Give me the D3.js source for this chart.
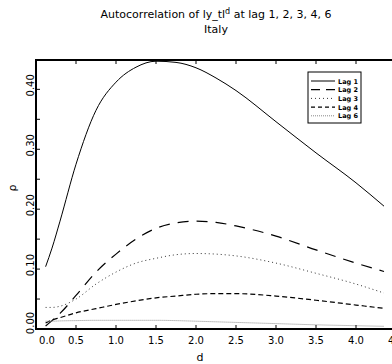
<!DOCTYPE html>
<html>
<head>
<meta charset="utf-8">
<script src="https://cdn.jsdelivr.net/npm/d3@7"></script>
<style>
  body { margin: 0; background: #fff; }
  svg { display: block; font-family: "DejaVu Sans", sans-serif; }
</style>
</head>
<body>
<div id="chart"></div>
<script>
// d values where each series was read
const dValues = [0.12, 0.2, 0.3, 0.5, 0.75, 1.0, 1.25, 1.5, 1.75, 2.0, 2.25, 2.5, 3.0, 3.5, 4.0, 4.35];

// autocorrelation per lag
const lag1 = [0.104, 0.135, 0.180, 0.275, 0.365, 0.412, 0.437, 0.447, 0.445, 0.436, 0.419, 0.398, 0.346, 0.294, 0.244, 0.205];
const lag2 = [0.005, 0.014, 0.026, 0.056, 0.095, 0.125, 0.150, 0.168, 0.177, 0.180, 0.178, 0.172, 0.155, 0.132, 0.110, 0.096];
const lag3 = [0.036, 0.036, 0.038, 0.050, 0.075, 0.095, 0.110, 0.118, 0.124, 0.126, 0.125, 0.122, 0.110, 0.093, 0.075, 0.060];
const lag4 = [0.010, 0.015, 0.019, 0.027, 0.034, 0.041, 0.047, 0.052, 0.055, 0.058, 0.059, 0.059, 0.055, 0.048, 0.040, 0.0345];
const lag6 = [0.013, 0.013, 0.0135, 0.014, 0.0145, 0.0145, 0.0145, 0.0145, 0.014, 0.013, 0.012, 0.011, 0.009, 0.007, 0.0055, 0.0045];

const seriesNames = ["Lag 1", "Lag 2", "Lag 3", "Lag 4", "Lag 6"];
const xTicks = [0, 0.5, 1.0, 1.5, 2.0, 2.5, 3.0, 3.5, 4.0, 4.5];
const yLabelTicks = [0, 0.1, 0.2, 0.3, 0.4];
const yMinorTicks = [0, 0.05, 0.1, 0.15, 0.2, 0.25, 0.3, 0.35, 0.4];

const W = 392, H = 364;
const margin = { top: 60, right: -4, bottom: 35, left: 36 };
const width = W - margin.left - margin.right,
      height = H - margin.top - margin.bottom;

const styles = [
  { dash: null, color: "#000", w: 1 },
  { dash: "11,8", color: "#000", w: 1.2 },
  { dash: "1,3", color: "#333", w: 1 },
  { dash: "5,3", color: "#000", w: 1.2 },
  { dash: "1,1", color: "#888", w: 1 }
];

const svg = d3.select("#chart").append("svg")
    .attr("width", W).attr("height", H);

// titles
const title = svg.append("text")
    .attr("x", margin.left + width / 2).attr("y", 18)
    .attr("text-anchor", "middle")
    .style("font-size", "11px");
title.append("tspan").text("Autocorrelation of ly_tl");
title.append("tspan").attr("dy", -4).style("font-size", "8px").text("d");
title.append("tspan").attr("dy", 4).text(" at lag 1, 2, 3, 4, 6");

svg.append("text")
    .attr("x", margin.left + width / 2).attr("y", 33)
    .attr("text-anchor", "middle")
    .style("font-size", "11px")
    .text("Italy");

const g = svg.append("g")
    .attr("transform", "translate(" + margin.left + "," + margin.top + ")");

const x = d3.scaleLinear().domain([0, 4.5]).range([0, width]);
const y = d3.scaleLinear().domain([0, 0.449]).range([height, 0]);

// curves
const allSeries = [lag1, lag2, lag3, lag4, lag6];
const line = d3.line()
    .x(function (d) { return x(d[0]); })
    .y(function (d) { return y(d[1]); })
    .curve(d3.curveMonotoneX);

allSeries.forEach(function (vals, i) {
    const pts = dValues.map(function (d, j) { return [d, vals[j]]; });
    g.append("path")
        .attr("d", line(pts))
        .attr("fill", "none")
        .attr("stroke", styles[i].color)
        .attr("stroke-width", styles[i].w)
        .attr("stroke-dasharray", styles[i].dash);
});

// frame
g.append("rect")
    .attr("width", width).attr("height", height)
    .attr("fill", "none").attr("stroke", "#000").attr("stroke-width", 2);

// x axis ticks + labels
const tickLen = 4;
xTicks.forEach(function (t) {
    g.append("line").attr("x1", x(t)).attr("x2", x(t))
        .attr("y1", height).attr("y2", height - tickLen).attr("stroke", "#000");
    g.append("line").attr("x1", x(t)).attr("x2", x(t))
        .attr("y1", 0).attr("y2", tickLen).attr("stroke", "#000");
    g.append("text")
        .attr("x", x(t) + (t === 0 ? 11 : 0)).attr("y", height + 15)
        .attr("text-anchor", "middle")
        .style("font-size", "10px")
        .text(d3.format(".1f")(t));
});

yMinorTicks.forEach(function (t) {
    g.append("line").attr("x1", 0).attr("x2", tickLen)
        .attr("y1", y(t)).attr("y2", y(t)).attr("stroke", "#000");
    g.append("line").attr("x1", width).attr("x2", width - tickLen)
        .attr("y1", y(t)).attr("y2", y(t)).attr("stroke", "#000");
});

yLabelTicks.forEach(function (t) {
    const ty = y(t) - (t === 0 ? 6 : 4);
    g.append("text")
        .attr("transform", "translate(-2," + ty + ") rotate(-90)")
        .attr("text-anchor", "middle")
        .style("font-size", "10px")
        .text(d3.format(".2f")(t));
});

// axis titles
svg.append("text")
    .attr("x", margin.left + width / 2 - 16).attr("y", 361)
    .attr("text-anchor", "middle")
    .style("font-size", "11px")
    .text("d");

svg.append("text")
    .attr("transform", "translate(16,188) rotate(-90)")
    .attr("text-anchor", "middle")
    .style("font-size", "11px")
    .text("ρ");

// legend
const lg = svg.append("g").attr("transform", "translate(308,72)");
lg.append("rect").attr("width", 53).attr("height", 51)
    .attr("fill", "#fff").attr("stroke", "#000").attr("stroke-width", 1);
seriesNames.forEach(function (name, i) {
    const ly = 9 + i * 8.7;
    lg.append("line").attr("x1", 3).attr("x2", 27)
        .attr("y1", ly).attr("y2", ly)
        .attr("stroke", styles[i].color)
        .attr("stroke-width", styles[i].w)
        .attr("stroke-dasharray", i === 1 ? "9,6" : (i === 3 ? "4,3" : styles[i].dash));
    lg.append("text").attr("x", 30).attr("y", ly + 2.5)
        .style("font-size", "6.5px").style("font-weight", "bold")
        .text(name);
});
</script>
</body>
</html>
